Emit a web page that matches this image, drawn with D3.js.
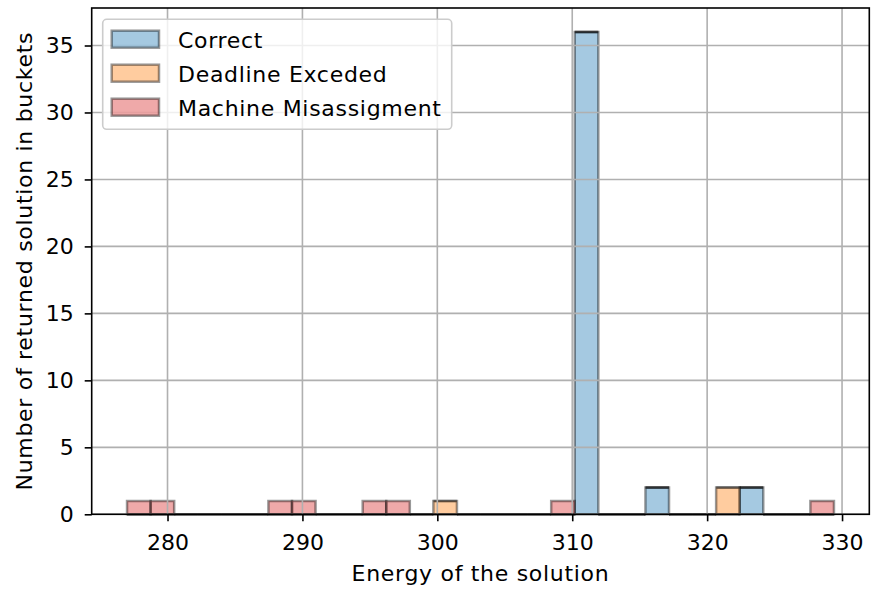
<!DOCTYPE html>
<html>
<head>
<meta charset="utf-8">
<script src="https://cdn.jsdelivr.net/npm/d3@7"></script>
<style>
  body { margin: 0; background: #fff; }
  text { font-family: "DejaVu Sans", sans-serif; }
</style>
</head>
<body>
<div id="chart"></div>
<script>
// histogram: 30 bins between min and max energy
var energyMin = 277.0;
var energyMax = 329.4;
var nBins = 30;

var seriesNames = ["Correct", "Deadline Exceded", "Machine Misassigment"];
var seriesColors = ["#1f77b4", "#ff7f0e", "#d62728"];

// counts per bin
var correctCounts  = [0,0,0,0,0,0,0,0,0,0, 0,0,0,0,0,0,0,0,0,36, 0,0,2,0,0,0,2,0,0,0];
var deadlineCounts = [0,0,0,0,0,0,0,0,0,0, 0,0,0,1,0,0,0,0,0,0, 0,0,0,0,0,2,0,0,0,0];
var machineCounts  = [1,1,0,0,0,0,1,1,0,0, 1,1,0,0,0,0,0,0,1,0, 0,0,0,0,0,0,0,0,0,1];

var xTicks = [280, 290, 300, 310, 320, 330];
var yTicks = [0, 5, 10, 15, 20, 25, 30, 35];

function init()
{
    var w = 871;
    var h = 590;
    var left = 91.7, right = 869.3, top = 8, bottom = 514.3;
    var fs = "22px";
    var ls = "0.7px";

    var binW = (energyMax - energyMin) / nBins;
    var pad = (energyMax - energyMin) * 0.05;

    var x = d3.scaleLinear()
              .domain([energyMin - pad, energyMax + pad])
              .range([left, right]);
    var y = d3.scaleLinear()
              .domain([0, 36 * 1.05])
              .range([bottom, top]);

    var svg = d3.select("#chart")
                .append("svg")
                .attr("width", w)
                .attr("height", h);

    // stacked data (zero-height bins kept, like matplotlib draws them)
    var allCounts = [correctCounts, deadlineCounts, machineCounts];
    var rows = [];
    for (var s = 0; s < allCounts.length; s++) {
        for (var i = 0; i < nBins; i++) {
            var base = 0;
            for (var k = 0; k < s; k++) base += allCounts[k][i];
            rows.push({
                s: s,
                x0: energyMin + i * binW,
                x1: energyMin + (i + 1) * binW,
                y0: base,
                y1: base + allCounts[s][i]
            });
        }
    }

    svg.append("g")
        .selectAll("path")
        .data(rows)
        .enter()
        .append("path")
        .attr("d", function(d) {
            return "M" + x(d.x0) + "," + y(d.y0) +
                   "V" + y(d.y1) + "H" + x(d.x1) +
                   "V" + y(d.y0) + "Z";
        })
        .style("fill", function(d) { return seriesColors[d.s]; })
        .style("fill-opacity", 0.4)
        .style("stroke", "#000")
        .style("stroke-opacity", 0.4)
        .style("stroke-width", 2.5);

    // grid (drawn above the bars, like matplotlib)
    var grid = svg.append("g");
    grid.selectAll(".gx")
        .data(xTicks)
        .enter()
        .append("line")
        .attr("x1", function(d) { return x(d); })
        .attr("x2", function(d) { return x(d); })
        .attr("y1", top)
        .attr("y2", bottom)
        .style("stroke", "#b0b0b0")
        .style("stroke-width", 1.6);
    grid.selectAll(".gy")
        .data(yTicks)
        .enter()
        .append("line")
        .attr("x1", left)
        .attr("x2", right)
        .attr("y1", function(d) { return y(d); })
        .attr("y2", function(d) { return y(d); })
        .style("stroke", "#b0b0b0")
        .style("stroke-width", 1.6);

    // axes
    var xAxis = d3.axisBottom(x).tickValues(xTicks).tickSize(7).tickPadding(8).tickSizeOuter(0);
    var yAxis = d3.axisLeft(y).tickValues(yTicks).tickSize(7).tickPadding(11).tickSizeOuter(0);

    var gx = svg.append("g")
        .attr("transform", "translate(0," + bottom + ")")
        .call(xAxis);
    var gy = svg.append("g")
        .attr("transform", "translate(" + left + ",0)")
        .call(yAxis);

    [gx, gy].forEach(function(g) {
        g.select(".domain").remove();
        g.selectAll(".tick line").style("stroke", "#000").style("stroke-width", 1.6);
        g.selectAll(".tick text")
         .style("font-family", "DejaVu Sans")
         .style("font-size", fs)
         .style("fill", "#000");
    });
    gx.selectAll(".tick text").attr("y", 20).attr("dy", "0.73em");

    // spines
    svg.append("rect")
        .attr("x", left)
        .attr("y", top)
        .attr("width", right - left)
        .attr("height", bottom - top)
        .style("fill", "none")
        .style("stroke", "#000")
        .style("stroke-width", 1.6);

    // labels
    svg.append("text")
        .attr("x", (left + right) / 2)
        .attr("y", 581)
        .attr("text-anchor", "middle")
        .style("font-size", fs)
        .style("letter-spacing", ls)
        .text("Energy of the solution");

    svg.append("text")
        .attr("transform", "translate(32," + ((top + bottom) / 2) + ") rotate(-90)")
        .attr("text-anchor", "middle")
        .style("font-size", fs)
        .style("letter-spacing", ls)
        .text("Number of returned solution in buckets");

    // legend
    var lg = svg.append("g");
    lg.append("rect")
        .attr("x", 102.7)
        .attr("y", 19.3)
        .attr("width", 349)
        .attr("height", 110)
        .attr("rx", 4)
        .style("fill", "#fff")
        .style("fill-opacity", 0.8)
        .style("stroke", "#cccccc")
        .style("stroke-width", 1.6);

    var items = lg.selectAll(".item")
        .data(seriesNames)
        .enter()
        .append("g")
        .attr("transform", function(d, i) { return "translate(0," + (i * 34) + ")"; });

    items.append("rect")
        .attr("x", 111.7)
        .attr("y", 30.7)
        .attr("width", 47.3)
        .attr("height", 17)
        .style("fill", function(d, i) { return seriesColors[i]; })
        .style("fill-opacity", 0.4)
        .style("stroke", "#000")
        .style("stroke-opacity", 0.4)
        .style("stroke-width", 2.5);

    items.append("text")
        .attr("x", 178)
        .attr("y", 47.5)
        .style("font-size", fs)
        .style("letter-spacing", ls)
        .text(function(d) { return d; });
}
window.onload = init;
</script>
</body>
</html>
